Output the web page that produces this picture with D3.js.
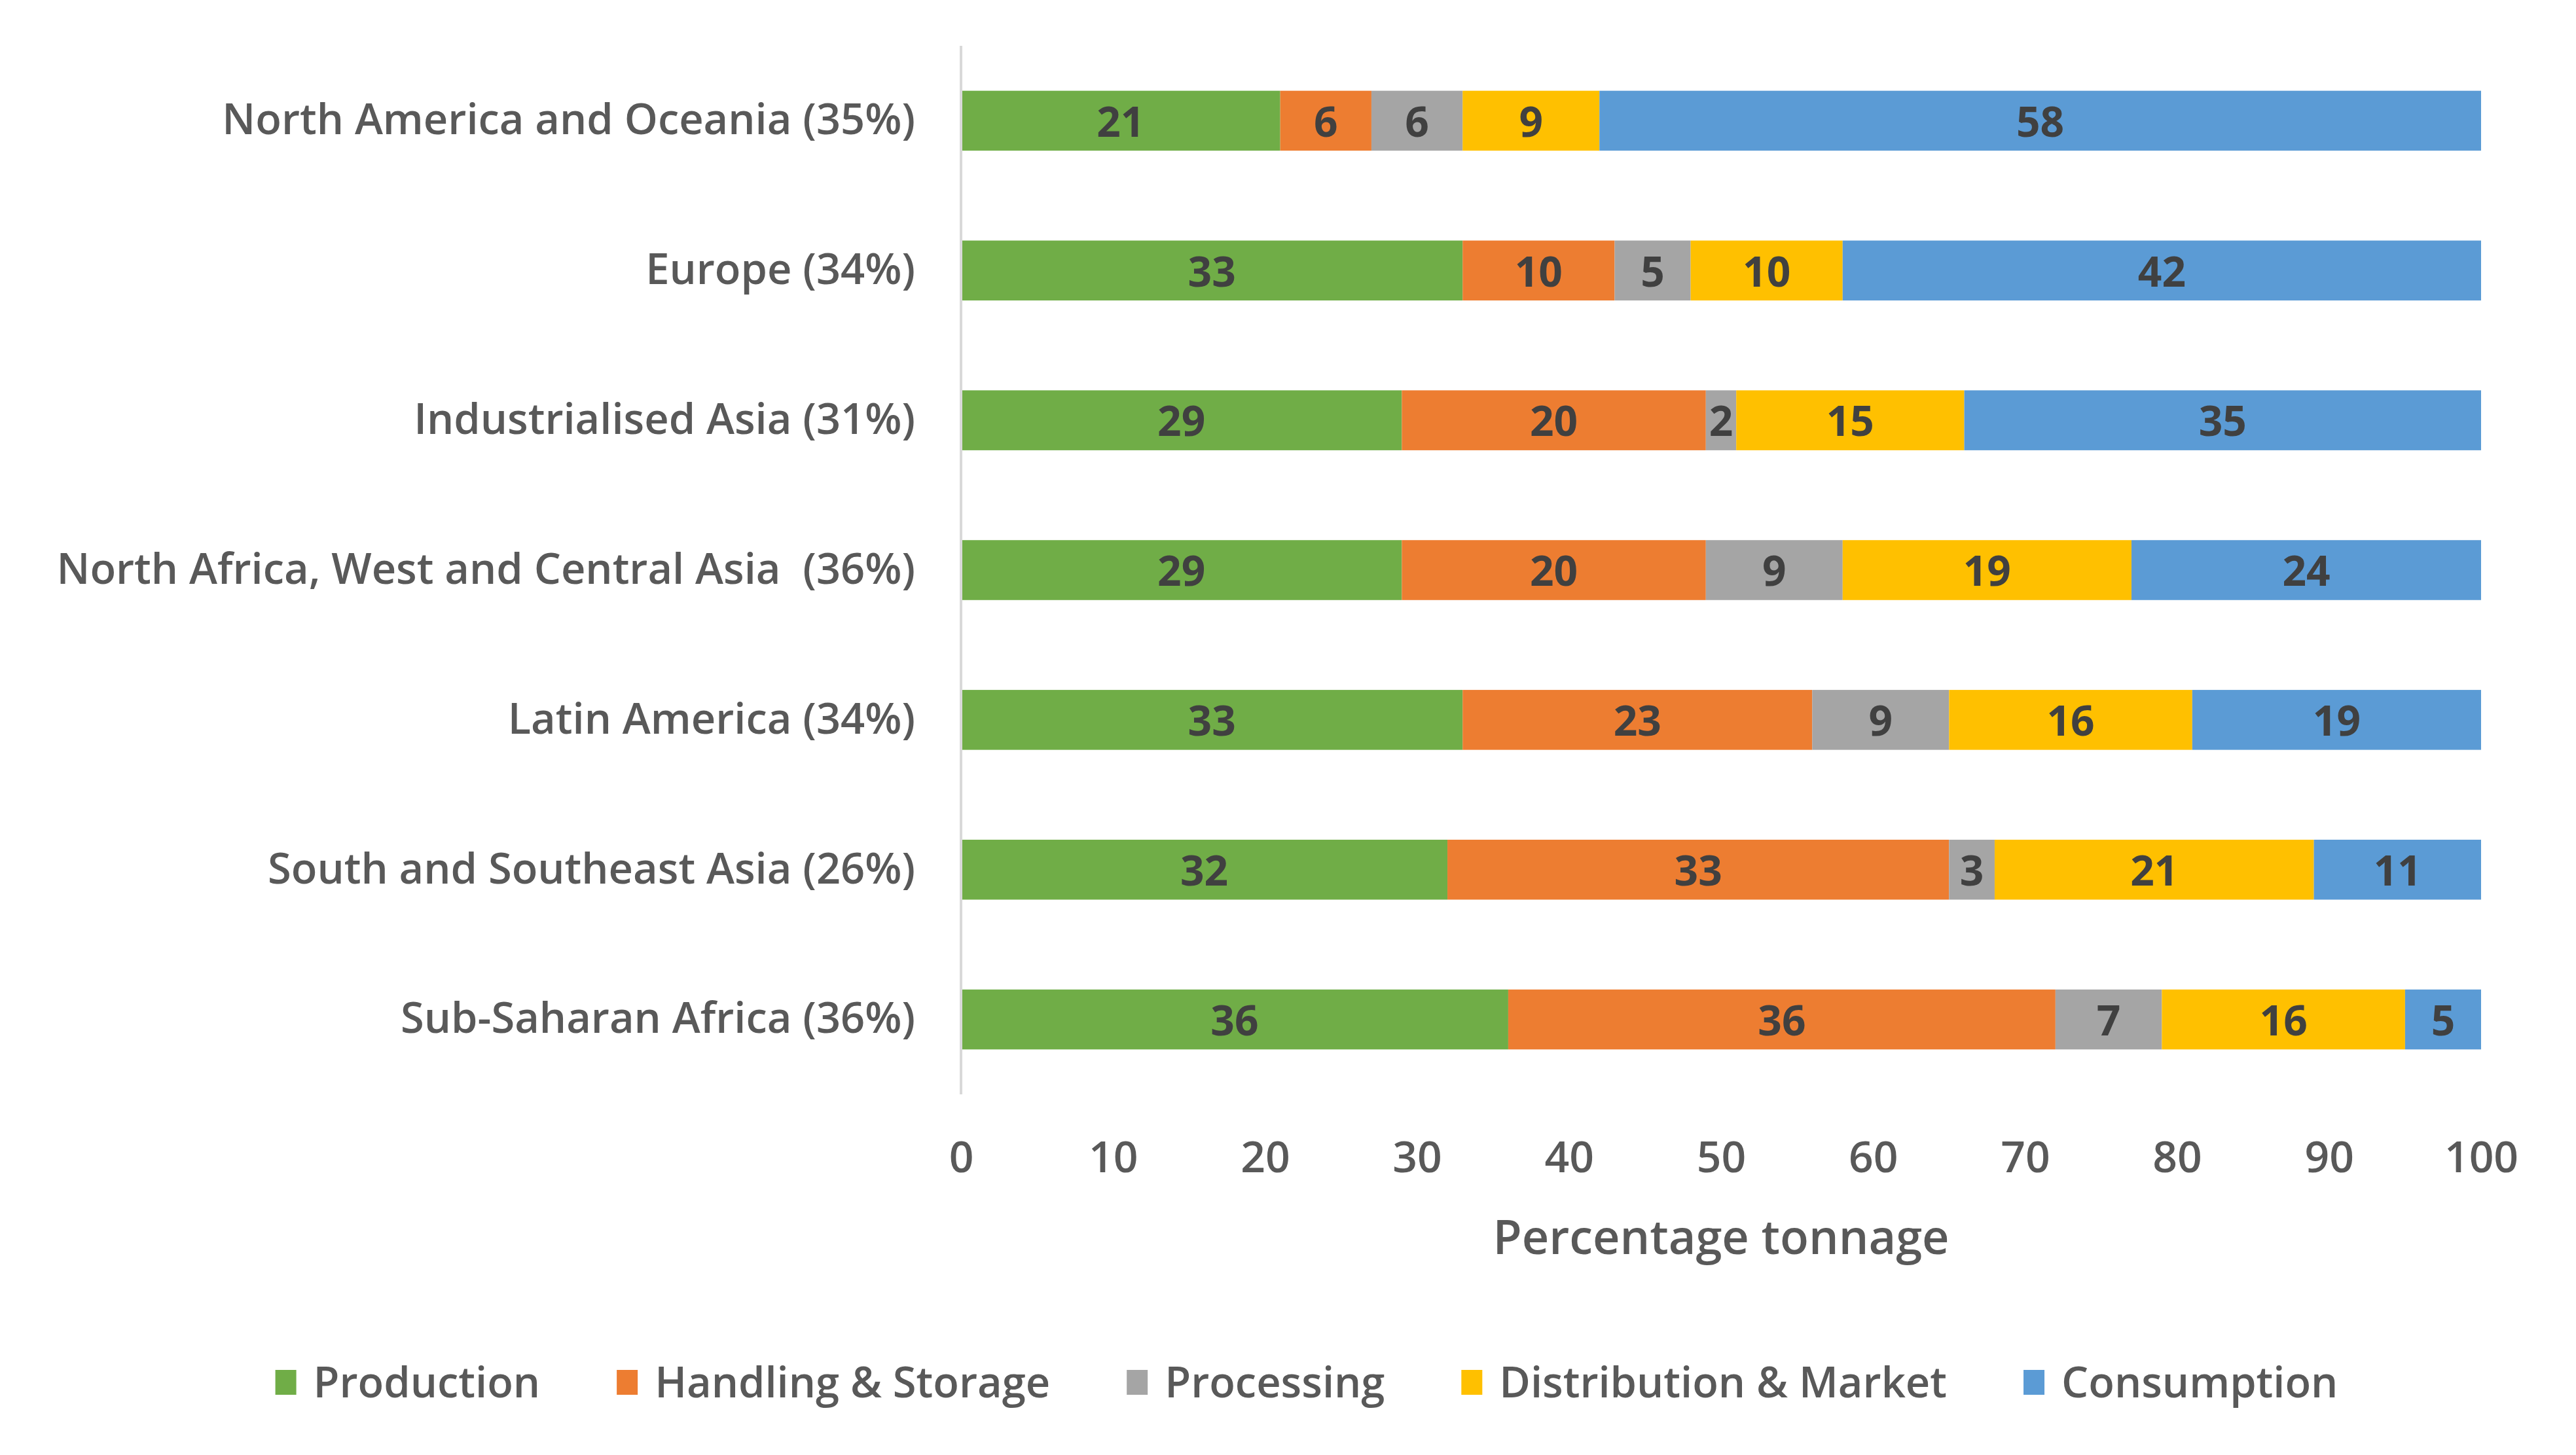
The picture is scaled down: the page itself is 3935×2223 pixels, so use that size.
<!DOCTYPE html>
<html>
<head>
<meta charset="utf-8">
<script src="https://cdn.jsdelivr.net/npm/d3@7"></script>
<style>
  html, body { margin: 0; padding: 0; background: #fff; }
  text { font-family: "Open Sans", "Noto Sans", sans-serif; white-space: pre; }
</style>
</head>
<body>
<div id="container"></div>
<script>
(function(){
  "use strict";
  var regions = [
    "North America and Oceania (35%)",
    "Europe (34%)",
    "Industrialised Asia (31%)",
    "North Africa, West and Central Asia  (36%)",
    "Latin America (34%)",
    "South and Southeast Asia (26%)",
    "Sub-Saharan Africa (36%)"
  ];
  var stages = ["Production", "Handling & Storage", "Processing", "Distribution & Market", "Consumption"];
  var production = [21, 33, 29, 29, 33, 32, 36];
  var handling = [6, 10, 20, 20, 23, 33, 36];
  var processing = [6, 5, 2, 9, 9, 3, 7];
  var distribution = [9, 10, 15, 19, 16, 21, 16];
  var consumption = [58, 42, 35, 24, 19, 11, 5];
  var xTicks = [0, 10, 20, 30, 40, 50, 60, 70, 80, 90, 100];
  var colors = ["#70AD47", "#ED7D31", "#A5A5A5", "#FFC000", "#5B9BD5"];

  var series = [production, handling, processing, distribution, consumption];
  var rows = regions.map(function(r, i) {
    var o = { region: r };
    stages.forEach(function(s, k) { o[s] = series[k][i]; });
    return o;
  });

  var W = 3935, H = 2223;
  var margin = { top: 70, right: 145, bottom: 551, left: 1468 };
  var width = W - margin.left - margin.right;
  var height = H - margin.top - margin.bottom;

  var svg = d3.select("#container").append("svg")
      .attr("width", W)
      .attr("height", H);
  var chart = svg.append("g")
      .attr("transform", "translate(" + margin.left + "," + margin.top + ")");

  // clamp: rounded shares summing to 101 get cut at the plot edge, like the original
  var xScale = d3.scaleLinear().domain([0, 100]).range([0, width]).clamp(true);
  var yScale = d3.scaleBand().domain(regions).range([0, height])
      .paddingInner(0.6).paddingOuter(0.3);
  var color = d3.scaleOrdinal().domain(stages).range(colors);

  var stacked = d3.stack().keys(stages)(rows);

  var layers = chart.selectAll("g.layer").data(stacked).enter().append("g")
      .attr("class", "layer")
      .attr("fill", function(d) { return color(d.key); });

  layers.selectAll("rect").data(function(d) { return d; }).enter().append("rect")
      .attr("x", function(d) { return xScale(d[0]); })
      .attr("y", function(d) { return yScale(d.data.region); })
      .attr("width", function(d) { return xScale(d[1]) - xScale(d[0]); })
      .attr("height", yScale.bandwidth());

  layers.selectAll("text").data(function(d) { return d; }).enter().append("text")
      .attr("x", function(d) { return (xScale(d[0]) + xScale(d[1])) / 2; })
      .attr("y", function(d) { return yScale(d.data.region) + yScale.bandwidth() / 2; })
      .attr("dy", "0.38em")
      .attr("text-anchor", "middle")
      .attr("fill", "#404040")
      .style("font-size", "64px")
      .style("font-weight", 700)
      .text(function(d) { return d[1] - d[0]; });

  // vertical category axis line
  var yAxis = d3.axisLeft(yScale).tickSize(0).tickPadding(70);
  var yAxisGroup = chart.append("g").call(yAxis);
  yAxisGroup.select(".domain").attr("stroke", "#D9D9D9").attr("stroke-width", 4)
      .attr("d", "M0,0V" + height);
  yAxisGroup.selectAll(".tick text")
      .attr("fill", "#595959")
      .style("font-size", "65px")
      .style("font-weight", 600)
      .style("font-family", "'Open Sans', sans-serif");

  var xAxis = d3.axisBottom(xScale).tickValues(xTicks).tickSize(0).tickPadding(72);
  var xAxisGroup = chart.append("g")
      .attr("transform", "translate(0," + height + ")").call(xAxis);
  xAxisGroup.select(".domain").remove();
  xAxisGroup.selectAll(".tick text")
      .attr("fill", "#595959")
      .style("font-size", "66px")
      .style("font-weight", 600)
      .style("font-family", "'Open Sans', sans-serif");

  chart.append("text")
      .attr("x", width / 2)
      .attr("y", height + 244)
      .attr("text-anchor", "middle")
      .attr("fill", "#595959")
      .style("font-size", "72px")
      .style("font-weight", 600)
      .text("Percentage tonnage");

  // legend
  var legend = svg.append("g");
  var items = legend.selectAll("g").data(stages).enter().append("g");
  items.append("rect")
      .attr("y", -19).attr("width", 32).attr("height", 38)
      .attr("fill", function(d) { return color(d); });
  items.append("text")
      .attr("x", 58).attr("dy", "0.36em")
      .attr("fill", "#595959")
      .style("font-size", "65px")
      .style("font-weight", 600)
      .text(function(d) { return d; });
  var pos = 0;
  items.each(function() {
    var g = d3.select(this);
    g.attr("transform", "translate(" + pos + ",0)");
    pos += 58 + g.select("text").node().getComputedTextLength() + 117;
  });
  var total = pos - 117;
  legend.attr("transform", "translate(" + (1996 - total / 2) + ",2112)");
})();
</script>
</body>
</html>
